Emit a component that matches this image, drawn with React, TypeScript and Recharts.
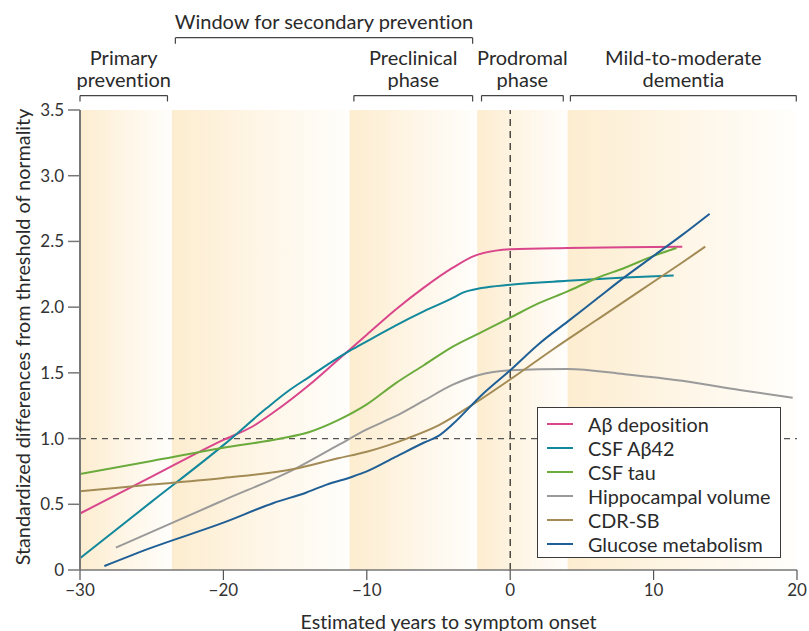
import React from "react";
import {
  Legend,
  Line,
  LineChart,
  ReferenceArea,
  ReferenceLine,
  XAxis,
  YAxis,
} from "recharts";

const FONT = "Lato, 'Open Sans', sans-serif";
const TEXT = "#2a2a2a";
const NO_LIG = { fontVariantLigatures: "none" } as const;

const xTicks = [-30, -20, -10, 0, 10, 20];
const yTicks = [0, 0.5, 1, 1.5, 2, 2.5, 3, 3.5];

const abDeposition = [
  { x: -30, y: 0.43 }, { x: -25, y: 0.71 }, { x: -20, y: 0.99 }, { x: -18, y: 1.09 },
  { x: -16.5, y: 1.2 }, { x: -14, y: 1.41 }, { x: -12, y: 1.6 }, { x: -10, y: 1.79 },
  { x: -8, y: 1.98 }, { x: -6, y: 2.15 }, { x: -4, y: 2.3 }, { x: -2.5, y: 2.39 },
  { x: -1, y: 2.43 }, { x: 0, y: 2.44 }, { x: 4, y: 2.45 }, { x: 8, y: 2.455 }, { x: 12, y: 2.46 },
];

const csfAb42 = [
  { x: -30, y: 0.09 }, { x: -25, y: 0.52 }, { x: -20, y: 0.95 }, { x: -17, y: 1.23 },
  { x: -15.5, y: 1.36 }, { x: -14, y: 1.47 }, { x: -12.5, y: 1.58 }, { x: -11, y: 1.68 },
  { x: -9.5, y: 1.77 }, { x: -8, y: 1.86 }, { x: -6, y: 1.97 }, { x: -4, y: 2.07 },
  { x: -3.3, y: 2.11 }, { x: -2, y: 2.145 }, { x: 0, y: 2.17 }, { x: 4, y: 2.2 },
  { x: 8, y: 2.225 }, { x: 11.4, y: 2.24 },
];

const csfTau = [
  { x: -30, y: 0.73 }, { x: -25, y: 0.83 }, { x: -20, y: 0.93 }, { x: -16, y: 1.0 },
  { x: -14, y: 1.05 }, { x: -12, y: 1.14 }, { x: -10, y: 1.26 }, { x: -8, y: 1.42 },
  { x: -6, y: 1.56 }, { x: -4, y: 1.7 }, { x: -2, y: 1.81 }, { x: 0, y: 1.92 },
  { x: 2, y: 2.03 }, { x: 4, y: 2.12 }, { x: 6, y: 2.22 }, { x: 8, y: 2.3 },
  { x: 10, y: 2.39 }, { x: 11.6, y: 2.45 },
];

const hippocampal = [
  { x: -27.5, y: 0.17 }, { x: -25, y: 0.29 }, { x: -20, y: 0.53 }, { x: -15, y: 0.77 },
  { x: -12, y: 0.95 }, { x: -10, y: 1.07 }, { x: -8, y: 1.17 }, { x: -6, y: 1.29 },
  { x: -4, y: 1.41 }, { x: -2.3, y: 1.48 }, { x: 0, y: 1.52 }, { x: 4, y: 1.53 },
  { x: 8, y: 1.49 }, { x: 12, y: 1.44 }, { x: 16, y: 1.37 }, { x: 19.7, y: 1.31 },
];

const cdrSb = [
  { x: -30, y: 0.6 }, { x: -25, y: 0.65 }, { x: -20, y: 0.7 }, { x: -15, y: 0.77 },
  { x: -12, y: 0.85 }, { x: -10, y: 0.9 }, { x: -7.2, y: 1.0 }, { x: -5, y: 1.1 },
  { x: -2.6, y: 1.26 }, { x: 0, y: 1.45 }, { x: 3, y: 1.68 }, { x: 6, y: 1.9 },
  { x: 9, y: 2.12 }, { x: 12, y: 2.34 }, { x: 13.6, y: 2.46 },
];

const glucose = [
  { x: -28.3, y: 0.03 }, { x: -25, y: 0.17 }, { x: -20, y: 0.36 }, { x: -16.5, y: 0.51 },
  { x: -14.2, y: 0.59 }, { x: -12.8, y: 0.65 }, { x: -11, y: 0.71 }, { x: -10, y: 0.75 },
  { x: -8, y: 0.86 }, { x: -6, y: 0.97 }, { x: -5, y: 1.02 }, { x: -4, y: 1.11 },
  { x: -2, y: 1.33 }, { x: 0, y: 1.52 }, { x: 2, y: 1.72 }, { x: 4, y: 1.89 },
  { x: 6, y: 2.06 }, { x: 8, y: 2.23 }, { x: 10, y: 2.39 }, { x: 12, y: 2.55 }, { x: 13.9, y: 2.71 },
];

const series = [
  { name: "Aβ deposition", color: "#d9468b", data: abDeposition },
  { name: "CSF Aβ42", color: "#12889c", data: csfAb42 },
  { name: "CSF tau", color: "#6aab3c", data: csfTau },
  { name: "Hippocampal volume", color: "#9a9a9a", data: hippocampal },
  { name: "CDR-SB", color: "#a38b55", data: cdrSb },
  { name: "Glucose metabolism", color: "#1f5f95", data: glucose },
];

// shaded phase bands (years)
const bands = [
  [-30, -23.6],
  [-23.6, -11.2],
  [-11.2, -2.3],
  [-2.3, 4.0],
  [4.0, 20],
];

// phase brackets above the plot
const brackets = [
  { from: -30, to: -23.9, upper: false, lines: ["Primary", "prevention"] },
  { from: -23.35, to: -2.62, upper: true, lines: ["Window for secondary prevention"] },
  { from: -10.9, to: -2.62, upper: false, lines: ["Preclinical", "phase"] },
  { from: -2.0, to: 3.7, upper: false, lines: ["Prodromal", "phase"] },
  { from: 4.2, to: 19.95, upper: false, lines: ["Mild-to-moderate", "dementia"] },
];

const LOW_LEVEL = 3.61;
const HIGH_LEVEL = 4.05;
const TICK_DROP = 0.045;

const fmtX = (v: number) => (v < 0 ? `\u2212${Math.abs(v)}` : `${v}`);
const fmtY = (v: number) => (v === 0 ? "0" : v.toFixed(1));

function bracketLabel(lines: string[]) {
  return (props: any) => {
    const vb = props.viewBox || {};
    const cx = (vb.x ?? 0) + (vb.width ?? 0) / 2;
    const y = vb.y ?? 0;
    return (
      <g>
        {lines.map((t, i) => (
          <text
            key={t}
            x={cx}
            y={y - 17 - (lines.length - 1 - i) * 22}
            textAnchor="middle"
            dominantBaseline="central"
            fontFamily={FONT}
            fontSize={20}
            fill={TEXT}
            style={NO_LIG}
          >
            {t}
          </text>
        ))}
      </g>
    );
  };
}

const YTitle = (props: any) => {
  const vb = props.viewBox || {};
  const x = (vb.x ?? 0) + 12;
  const y = (vb.y ?? 0) + (vb.height ?? 0) / 2 - 3;
  return (
    <text
      x={x}
      y={y}
      transform={`rotate(-90, ${x}, ${y})`}
      textAnchor="middle"
      dominantBaseline="central"
      fontFamily={FONT}
      fontSize={19.8}
      fill={TEXT}
      style={NO_LIG}
    >
      Standardized differences from threshold of normality
    </text>
  );
};

const XTitle = (props: any) => {
  const vb = props.viewBox || {};
  const x = (vb.x ?? 0) + (vb.width ?? 0) / 2 + 10;
  const y = (vb.y ?? 0) + 51;
  return (
    <text
      x={x}
      y={y}
      textAnchor="middle"
      dominantBaseline="central"
      fontFamily={FONT}
      fontSize={19.6}
      fill={TEXT}
      style={NO_LIG}
    >
      Estimated years to symptom onset
    </text>
  );
};

const LegendBox = () => (
  <div
    style={{
      boxSizing: "border-box",
      width: 244,
      height: 151,
      border: "1.5px solid #3a3a3a",
      background: "#fff",
      padding: "4px 0 0 9px",
      fontFamily: FONT,
      fontSize: 19.8,
      color: TEXT,
      fontVariantLigatures: "none",
    }}
  >
    {series.map((s) => (
      <div key={s.name} style={{ display: "flex", alignItems: "center", height: 24 }}>
        <span
          style={{ display: "inline-block", width: 26, height: 2, background: s.color, marginRight: 15 }}
        />
        <span style={{ lineHeight: "24px", whiteSpace: "nowrap" }}>{s.name}</span>
      </div>
    ))}
  </div>
);

export default function App() {
  return (
    <div style={{ position: "absolute", left: 0, top: 0, background: "#fff" }}>
      <LineChart width={809} height={631} margin={{ top: 110, right: 12, bottom: 11, left: 10 }}>
        <defs>
          <linearGradient id="bandFade" x1="0" y1="0" x2="1" y2="0">
            <stop offset="0%" stopColor="#fdedd0" />
            <stop offset="100%" stopColor="#fffefc" />
          </linearGradient>
        </defs>
        {bands.map(([a, b]) => (
          <ReferenceArea
            key={a}
            x1={a}
            x2={b}
            y1={0}
            y2={3.5}
            fill="url(#bandFade)"
            fillOpacity={1}
            stroke="none"
          />
        ))}
        <XAxis
          type="number"
          dataKey="x"
          domain={[-30, 20]}
          ticks={xTicks}
          tickFormatter={fmtX}
          allowDataOverflow
          height={50}
          tickSize={10}
          tickMargin={4}
          axisLine={{ stroke: "#777", strokeWidth: 1.5 }}
          tickLine={{ stroke: "#555", strokeWidth: 1.2 }}
          tick={{ fill: "#333", fontSize: 17, fontFamily: FONT }}
          label={XTitle}
        />
        <YAxis
          type="number"
          domain={[0, 3.5]}
          ticks={yTicks}
          tickFormatter={fmtY}
          allowDataOverflow
          width={70}
          tickSize={12}
          tickMargin={4}
          axisLine={{ stroke: "#777", strokeWidth: 2 }}
          tickLine={{ stroke: "#777", strokeWidth: 1.5 }}
          tick={{ fill: "#333", fontSize: 17, fontFamily: FONT }}
          label={YTitle}
        />
        <ReferenceLine y={1} stroke="#555" strokeWidth={1.2} strokeDasharray="6 5" />
        <ReferenceLine x={0} stroke="#222" strokeWidth={1.2} strokeDasharray="7 5" />
        {brackets.map((b) => {
          const lvl = b.upper ? HIGH_LEVEL : LOW_LEVEL;
          return (
            <React.Fragment key={b.lines.join(" ")}>
              <ReferenceLine
                segment={[
                  { x: b.from, y: lvl },
                  { x: b.to, y: lvl },
                ]}
                ifOverflow="visible"
                stroke="#444"
                strokeWidth={1.2}
                label={bracketLabel(b.lines)}
              />
              <ReferenceLine
                segment={[
                  { x: b.from, y: lvl },
                  { x: b.from, y: lvl - TICK_DROP },
                ]}
                ifOverflow="visible"
                stroke="#444"
                strokeWidth={1.2}
              />
              <ReferenceLine
                segment={[
                  { x: b.to, y: lvl },
                  { x: b.to, y: lvl - TICK_DROP },
                ]}
                ifOverflow="visible"
                stroke="#444"
                strokeWidth={1.2}
              />
            </React.Fragment>
          );
        })}
        {series.map((s) => (
          <Line
            key={s.name}
            name={s.name}
            data={s.data}
            dataKey="y"
            type="monotone"
            stroke={s.color}
            strokeWidth={2}
            dot={false}
            activeDot={false}
            isAnimationActive={false}
          />
        ))}
        <Legend
          layout="vertical"
          align="center"
          verticalAlign="middle"
          content={LegendBox}
          wrapperStyle={{ left: 537, top: 407, width: 244, height: 151 }}
        />
      </LineChart>
    </div>
  );
}
